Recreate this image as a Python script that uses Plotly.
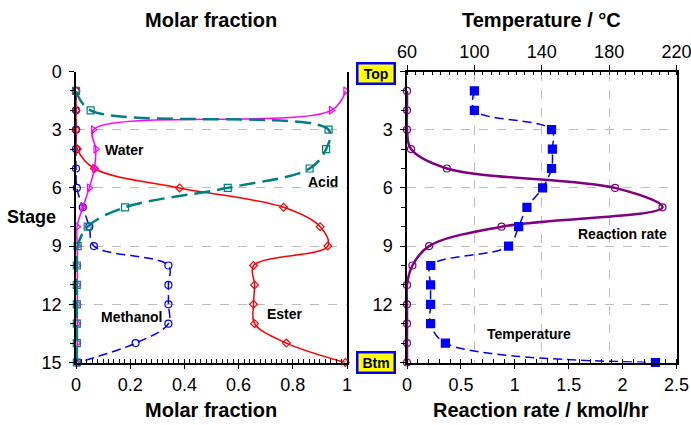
import plotly.graph_objects as go

stages = list(range(1, 16))
water = [0.995, 0.942, 0.064, 0.073, 0.068, 0.049, 0.025, 0.004, 0.005, 0.005, 0.005, 0.005, 0.005, 0.005, 0.005]
acid = [0.0, 0.054, 0.932, 0.923, 0.862, 0.560, 0.181, 0.043, 0.006, 0.003, 0.003, 0.003, 0.003, 0.003, 0.003]
ester = [0.0, 0.0, 0.0, 0.005, 0.068, 0.382, 0.766, 0.901, 0.929, 0.655, 0.659, 0.655, 0.659, 0.776, 0.994]
methanol = [0.0, 0.0, 0.0, 0.0, 0.0, 0.003, 0.025, 0.049, 0.066, 0.341, 0.341, 0.341, 0.341, 0.220, 0.006]
rate = [0.0, 0.0, 0.0, 0.037, 0.37, 1.93, 2.37, 0.877, 0.205, 0.05, 0.0, 0.0, 0.0, 0.0, 0.0]
temperature = [100, 100, 145.8, 146.3, 145.8, 140.5, 131.2, 126.3, 120.3, 74.1, 74, 74, 74, 82.8, 207.5]

W, H = 691, 425
FONT = "Liberation Sans, Arial, sans-serif"

def px(x):
    return x / W

def py(y):
    return 1 - y / H

fig = go.Figure()

def add(xv, name, color, symbol, dash, width, size, xa, ya):
    fig.add_trace(go.Scatter(
        x=xv, y=stages, name=name, mode="lines+markers", xaxis=xa, yaxis=ya,
        line=dict(color=color, width=width, dash=dash, shape="spline", smoothing=1.0),
        marker=dict(symbol=symbol, size=size, color=color,
                    line=dict(color=color, width=1.2)),
        showlegend=False, cliponaxis=False))

add(methanol, "Methanol", "#0000FF", "circle-open", "9px,5px", 1.5, 7, "x", "y")
add(ester, "Ester", "#FF0000", "diamond-open", "solid", 1.5, 6, "x", "y")
add(water, "Water", "#FF00FF", "triangle-right-open", "solid", 1.5, 7, "x", "y")
add(acid, "Acid", "#008080", "square-open", "16px,7px", 2.5, 7, "x", "y")
add(rate, "Reaction rate", "#800080", "circle-open", "solid", 2.5, 7, "x3", "y2")
add(temperature, "Temperature", "#0000FF", "square", "9px,5px", 1.5, 8, "x4", "y2")

xl0, xl1 = 76, 347
xr0, xr1 = 407, 676.5
yt, yb = 71.5, 362.5

tickfont = dict(family=FONT, size=18, color="black")
grid = dict(gridcolor="#BDBDBD", griddash="dash", gridwidth=1)

common_x = dict(showline=True, linecolor="black", linewidth=1.5, ticks="outside",
                ticklen=5, tickcolor="black", tickwidth=1.2, tickfont=tickfont,
                automargin=False, zeroline=False, ticklabeloverflow="allow")

fig.update_layout(
    width=W, height=H, margin=dict(l=0, r=0, t=0, b=0),
    template="none", plot_bgcolor="white", paper_bgcolor="white",
    showlegend=False,
    xaxis=dict(domain=[px(xl0), px(xl1)], anchor="y", side="bottom", range=[0, 1],
               tickvals=[0, 0.2, 0.4, 0.6, 0.8, 1], ticktext=["0", "0.2", "0.4", "0.6", "0.8", "1"],
               showgrid=False,
               minor=dict(ticks="inside", dtick=0.02, ticklen=4, tickcolor="black", showgrid=False),
               **common_x),
    xaxis2=dict(overlaying="x", anchor="y", side="top", range=[0, 1],
                tickvals=[0, 0.2, 0.4, 0.6, 0.8, 1], ticktext=["0", "0.2", "0.4", "0.6", "0.8", "1"],
                showgrid=True, **grid,
                minor=dict(ticks="inside", dtick=0.02, ticklen=4, tickcolor="black", showgrid=False),
                **common_x),
    yaxis=dict(domain=[py(yb), py(yt)], anchor="x", range=[15, 0],
               tickvals=[0, 3, 6, 9, 12, 15], showgrid=True, **grid,
               showline=True, mirror=True, linecolor="black", linewidth=1.5,
               ticks="outside", ticklen=5, tickcolor="black", tickwidth=1.2,
               minor=dict(ticks="outside", dtick=1, ticklen=4, tickcolor="black", showgrid=False),
               tickfont=tickfont, automargin=False, zeroline=False, ticklabelstandoff=4),
    xaxis3=dict(domain=[px(xr0), px(xr1)], anchor="y2", side="bottom", range=[0, 2.5],
                tickvals=[0, 0.5, 1, 1.5, 2, 2.5], ticktext=["0", "0.5", "1", "1.5", "2", "2.5"],
                showgrid=False,
                minor=dict(ticks="inside", dtick=0.1, ticklen=4, tickcolor="black", showgrid=False),
                **common_x),
    xaxis4=dict(overlaying="x3", anchor="y2", side="top", range=[60, 220],
                tickvals=[60, 100, 140, 180, 220], showgrid=True, **grid,
                minor=dict(ticks="inside", dtick=5, ticklen=4, tickcolor="black", showgrid=False),
                **common_x),
    yaxis2=dict(domain=[py(yb), py(yt)], anchor="x3", range=[15, 0],
                tickvals=[0, 3, 6, 9, 12, 15], ticktext=["", "3", "6", "9", "12", ""],
                showgrid=True, **grid,
                showline=True, mirror=True, linecolor="black", linewidth=1.5,
                ticks="outside", ticklen=5, tickcolor="black", tickwidth=1.2,
                minor=dict(ticks="outside", dtick=1, ticklen=4, tickcolor="black", showgrid=False),
                tickfont=tickfont, automargin=False, zeroline=False, ticklabelstandoff=4),
)

def ann(text, x, y, size, bold=True, **kw):
    fig.add_annotation(text=("<b>%s</b>" % text) if bold else text, x=px(x), y=py(y),
                       xref="paper", yref="paper", showarrow=False,
                       font=dict(family=FONT, size=size, color="black"),
                       xanchor="center", yanchor="middle", **kw)

ann("Molar fraction", 211, 20, 20)
ann("Molar fraction", 211, 410, 20)
ann("Temperature / °C", 541, 20, 20)
ann("Reaction rate / kmol/hr", 541, 410, 20)
ann("Stage", 31, 217, 18)

ann("Water", 124, 150, 14)
ann("Acid", 323, 182, 14)
ann("Methanol", 131, 317, 14)
ann("Ester", 285, 314, 14)
ann("Reaction rate", 622, 234, 14)
ann("Temperature", 529, 334, 14)

for label, yy in [("Top", 74), ("Btm", 362)]:
    fig.add_annotation(text="<b>%s</b>" % label, x=px(376), y=py(yy), xref="paper", yref="paper",
                       showarrow=False, font=dict(family=FONT, size=14, color="black"),
                       bgcolor="#FFFF00", bordercolor="#0000FF", borderwidth=2.5, borderpad=1,
                       width=33, height=16, xanchor="center", yanchor="middle")

fig.write_html("out.html", config={"displayModeBar": False},
               post_script="document.body.style.margin='0';document.body.style.overflow='hidden';")
